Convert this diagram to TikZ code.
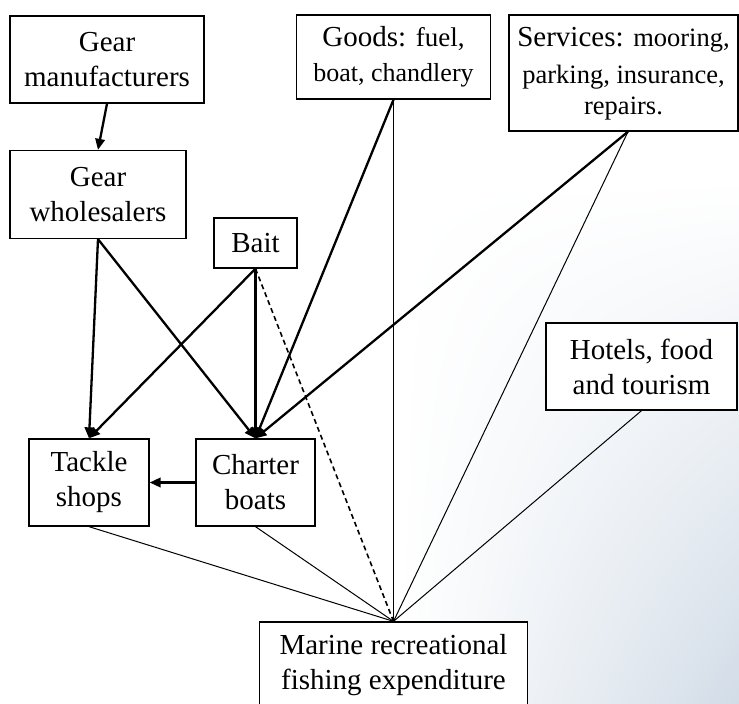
\documentclass[tikz,border=0pt]{standalone}
\usepackage{fontspec}
\setmainfont{Liberation Serif}
\usetikzlibrary{arrows.meta,shadings}
\definecolor{bgblue}{HTML}{D2DCE7}
\begin{document}
\begin{tikzpicture}[x=1pt,y=1pt,
  box/.style={draw=black, line width=1.3pt, fill=white, inner sep=0pt, align=center,
    font=\fontsize{29}{35}\selectfont},
  arr/.style={line width=2.3pt, -{Triangle[length=11pt,width=9.5pt]}},
  thin/.style={line width=1pt},
  dsh/.style={line width=1.6pt, dash pattern=on 5pt off 3.5pt}]
\useasboundingbox (0,0) rectangle (739,-704);
\fill[white] (0,0) rectangle (739,-704);
\shade[upper left=white, upper right=white, lower left=white, lower right=bgblue] (400,-180) rectangle (739,-704);
% nodes
\node[box, minimum width=194pt, minimum height=87pt] (gm) at (107,-59.5) {Gear\\manufacturers};
\node[box, minimum width=176pt, minimum height=88pt] (gw) at (98,-194.5) {Gear\\wholesalers};
\node[box, minimum width=83pt, minimum height=50pt] (bait) at (255.5,-243) {Bait};
\node[box, minimum width=194pt, minimum height=84pt] (goods) at (393.5,-57) {Goods: {\fontsize{27}{32}\selectfont fuel,}\\{\fontsize{26}{32}\selectfont boat, chandlery}};
\node[box, minimum width=229pt, minimum height=116pt] (serv) at (623.5,-73) {\raisebox{-3pt}{\begin{tabular}{@{}c@{}}Services: {\fontsize{26.5}{32}\selectfont mooring,}\\[2pt]{\fontsize{26.5}{32}\selectfont parking, insurance,}\\[-4pt]{\fontsize{26.5}{32}\selectfont repairs.}\end{tabular}}};
\node[box, minimum width=191pt, minimum height=87pt] (hot) at (641.5,-366.5) {Hotels, food\\and tourism};
\node[box, minimum width=120pt, minimum height=87pt] (tack) at (89,-482.5) {Tackle\\shops};
\node[box, minimum width=119pt, minimum height=87pt] (chart) at (255.5,-482.5) {Charter\\boats};
\node[box, minimum width=268pt, minimum height=87pt] (mar) at (393.5,-665.5) {Marine recreational\\fishing expenditure};
\coordinate (servb) at ([xshift=4.5pt]serv.south);
% thin lines to expenditure
\draw[thin] (goods.south) -- (mar.north);
\draw[thin] (servb) -- (mar.north);
\draw[thin] (hot.south) -- (mar.north);
\draw[thin] (tack.south) -- (mar.north);
\draw[thin] (chart.south) -- (mar.north);
\draw[dsh] (bait.south) -- (mar.north);
% arrows
\draw[arr] (gm.south) -- (gw.north);
\draw[arr] (gw.south) -- (tack.north);
\draw[arr] (gw.south) -- (chart.north);
\draw[arr] (bait.south) -- (tack.north);
\draw[arr] (bait.south) -- (chart.north);
\draw[arr] (goods.south) -- (chart.north);
\draw[arr] (servb) -- (chart.north);
\draw[arr] (chart.west) -- (tack.east);
\end{tikzpicture}
\end{document}
